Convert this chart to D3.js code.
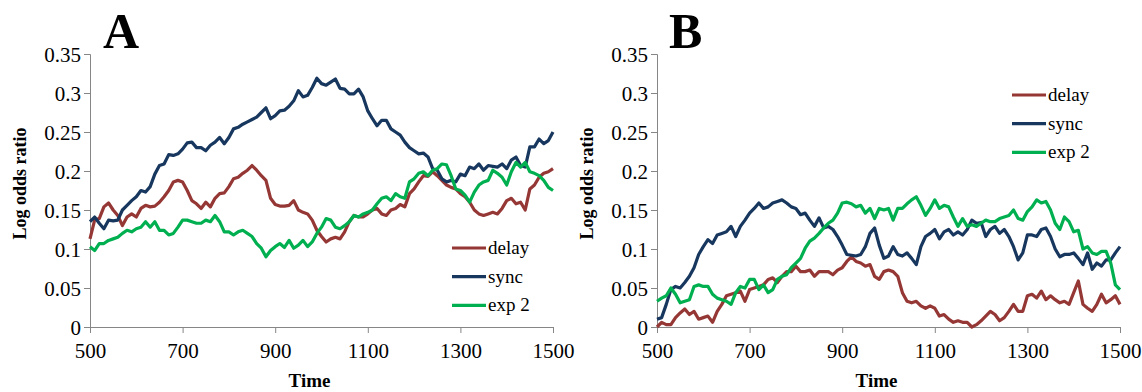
<!DOCTYPE html>
<html>
<head>
<meta charset="utf-8">
<script src="https://cdn.jsdelivr.net/npm/d3@7"></script>
<style>
  body { margin: 0; background: #fff; }
  svg { display: block; }
  svg text { font-family: "Liberation Serif", Tinos, "Times New Roman", "DejaVu Serif", serif !important; fill: #000; }
</style>
</head>
<body>
<div id="chart"></div>
<script>
// ── data (one value every 10 time steps)
const time = d3.range(500, 1501, 10);
const seriesNames = ['delay', 'sync', 'exp 2'];
const xTicks = [500, 700, 900, 1100, 1300, 1500];
const yTicks = [0, 0.05, 0.1, 0.15, 0.2, 0.25, 0.3, 0.35];
const yTickLabels = ['0', '0.05', '0.1', '0.15', '0.2', '0.25', '0.3', '0.35'];

const delayA = [
  .113, .137, .139, .154, .159, .150, .143, .130, .141, .145,
  .141, .152, .156, .154, .155, .160, .167, .175, .186, .188,
  .186, .175, .162, .158, .152, .160, .154, .165, .171, .172,
  .180, .190, .192, .197, .201, .207, .201, .194, .188, .165,
  .157, .155, .155, .156, .162, .150, .147, .145, .137, .124,
  .116, .109, .113, .115, .113, .122, .135, .143, .141, .141,
  .145, .150, .152, .145, .143, .150, .152, .157, .154, .171,
  .177, .186, .194, .193, .199, .194, .188, .182, .179, .177,
  .171, .167, .160, .150, .145, .143, .145, .147, .145, .152,
  .162, .165, .158, .160, .150, .177, .182, .192, .197, .199, .203
];
const syncA = [
  .135, .141, .133, .126, .137, .136, .137, .150, .156, .162,
  .167, .175, .173, .180, .196, .207, .209, .221, .220, .222,
  .228, .236, .237, .230, .230, .226, .233, .237, .243, .235,
  .243, .254, .256, .260, .263, .266, .269, .275, .281, .267,
  .271, .277, .278, .283, .290, .303, .295, .297, .307, .319,
  .312, .310, .314, .318, .306, .305, .299, .299, .305, .295,
  .277, .267, .258, .265, .265, .254, .250, .246, .237, .230,
  .226, .222, .223, .218, .203, .201, .190, .186, .188, .186,
  .196, .194, .205, .203, .209, .201, .207, .206, .205, .209,
  .203, .214, .218, .207, .205, .231, .231, .241, .235, .239, .250
];
const exp2A = [
  .103, .098, .107, .107, .111, .113, .115, .120, .124, .122,
  .126, .128, .135, .128, .135, .124, .124, .118, .120, .128,
  .137, .137, .135, .133, .133, .137, .135, .143, .135, .122,
  .122, .118, .122, .124, .120, .116, .107, .101, .090, .098,
  .103, .107, .102, .111, .101, .105, .111, .103, .109, .120,
  .128, .139, .137, .128, .126, .130, .135, .143, .141, .145,
  .147, .150, .158, .165, .167, .162, .171, .167, .165, .186,
  .190, .197, .199, .194, .201, .203, .209, .208, .194, .177,
  .175, .169, .160, .173, .182, .186, .188, .201, .197, .192,
  .182, .199, .211, .205, .211, .199, .197, .194, .188, .179, .175
];

const delayB = [
  .000, .006, .003, .003, .012, .018, .023, .016, .020, .010,
  .012, .014, .006, .020, .029, .040, .042, .044, .046, .033,
  .048, .050, .052, .054, .061, .063, .057, .065, .071, .071,
  .078, .071, .071, .073, .065, .071, .071, .071, .067, .073,
  .076, .084, .090, .084, .082, .078, .080, .065, .061, .071,
  .073, .071, .065, .044, .033, .031, .033, .027, .024, .027,
  .024, .014, .016, .010, .006, .008, .006, .006, .000, .003,
  .008, .014, .020, .016, .008, .012, .020, .029, .020, .020,
  .040, .042, .037, .046, .035, .040, .035, .031, .033, .029,
  .044, .059, .029, .024, .020, .029, .042, .031, .035, .040, .029
];
const syncB = [
  .010, .012, .029, .048, .052, .050, .057, .065, .076, .093,
  .103, .112, .107, .118, .120, .122, .129, .116, .129, .137,
  .146, .152, .159, .152, .154, .159, .161, .163, .159, .154,
  .152, .144, .146, .137, .129, .140, .127, .129, .125, .116,
  .105, .093, .092, .091, .093, .103, .120, .127, .105, .088,
  .091, .103, .093, .091, .095, .088, .080, .103, .116, .120,
  .125, .113, .122, .125, .118, .122, .118, .125, .137, .133,
  .134, .116, .125, .129, .120, .125, .116, .103, .086, .095,
  .118, .118, .116, .125, .127, .116, .100, .090, .093, .093,
  .095, .088, .080, .095, .074, .082, .078, .086, .086, .095, .103
];
const exp2B = [
  .033, .037, .040, .050, .042, .031, .033, .035, .052, .054,
  .052, .052, .042, .037, .035, .033, .029, .044, .052, .050,
  .061, .061, .048, .054, .044, .048, .061, .065, .067, .076,
  .082, .088, .101, .110, .114, .120, .127, .133, .137, .146,
  .159, .160, .158, .154, .156, .146, .152, .139, .152, .150,
  .152, .137, .152, .152, .158, .163, .167, .156, .143, .152,
  .163, .152, .156, .154, .141, .129, .139, .129, .131, .129,
  .133, .137, .135, .135, .139, .141, .143, .150, .139, .137,
  .148, .154, .163, .159, .161, .150, .133, .125, .141, .135,
  .122, .124, .100, .103, .095, .093, .097, .097, .082, .054, .048
];

const colors = { 'delay': '#953735', 'sync': '#17375e', 'exp 2': '#00b050' };
const axisColor = '#868686';
const serif = '"Liberation Serif", Tinos, "Times New Roman", "DejaVu Serif", serif';

const svg = d3.select('#chart').append('svg')
  .attr('width', 1142)
  .attr('height', 392)
  .attr('font-family', serif);

// one panel: letter, axes, three lines, legend
function drawPanel(cfg) {
  const x = d3.scaleLinear().domain([500, 1500]).range([cfg.left, cfg.right]);
  const y = d3.scaleLinear().domain([0, 0.35]).range([327, 54]);

  const g = svg.append('g');

  // x axis
  g.append('g')
    .attr('transform', `translate(0,${y(0)})`)
    .call(d3.axisBottom(x).tickValues(xTicks).tickSize(6).tickFormat(d3.format('d')))
    .attr('font-family', serif)
    .call(a => a.selectAll('.domain, .tick line').attr('stroke', axisColor))
    .call(a => a.selectAll('.tick text')
      .attr('y', 31).attr('dy', null)
      .attr('font-size', '21px').attr('font-family', serif));

  // y axis
  g.append('g')
    .attr('transform', `translate(${cfg.left},0)`)
    .call(d3.axisLeft(y).tickValues(yTicks).tickSize(6).tickPadding(3)
      .tickFormat((d, i) => yTickLabels[i]))
    .attr('font-family', serif)
    .call(a => a.selectAll('.domain, .tick line').attr('stroke', axisColor))
    .call(a => a.selectAll('.tick text')
      .attr('dy', '0.34em')
      .attr('font-size', '21px').attr('font-family', serif));

  // lines
  const line = d3.line()
    .x((d, i) => x(time[i]))
    .y(d => y(d));

  cfg.series.forEach((vals, k) => {
    g.append('path')
      .datum(vals)
      .attr('fill', 'none')
      .attr('stroke', colors[seriesNames[k]])
      .attr('stroke-width', 3.2)
      .attr('stroke-linejoin', 'round')
      .attr('d', line);
  });

  // panel letter
  g.append('text')
    .attr('x', cfg.letterX)
    .attr('y', 48)
    .attr('font-size', '50px')
    .attr('font-weight', 'bold')
    .text(cfg.letter);

  // axis titles
  g.append('text')
    .attr('transform', `translate(${cfg.left - 64},${y(0.175) - 7}) rotate(-90)`)
    .attr('text-anchor', 'middle')
    .attr('font-size', '18px')
    .attr('font-weight', 'bold')
    .text('Log odds ratio');

  g.append('text')
    .attr('x', (cfg.left + cfg.right) / 2 - 12)
    .attr('y', 387)
    .attr('text-anchor', 'middle')
    .attr('font-size', '19px')
    .attr('font-weight', 'bold')
    .text('Time');

  // legend
  seriesNames.forEach((name, k) => {
    const row = g.append('g')
      .attr('transform', `translate(${cfg.legendX},${cfg.legendY + k * 28.7})`);
    row.append('line')
      .attr('x1', 0).attr('x2', 34)
      .attr('stroke', colors[name])
      .attr('stroke-width', 3.2);
    row.append('text')
      .attr('x', 36)
      .attr('y', 6)
      .attr('font-size', '19px')
      .attr('font-family', serif)
      .text(name);
  });
}

drawPanel({
  letter: 'A', letterX: 103,
  left: 90, right: 553,
  series: [delayA, syncA, exp2A],
  legendX: 452, legendY: 248
});

drawPanel({
  letter: 'B', letterX: 669,
  left: 657, right: 1120,
  series: [delayB, syncB, exp2B],
  legendX: 1012, legendY: 95
});
</script>
</body>
</html>
